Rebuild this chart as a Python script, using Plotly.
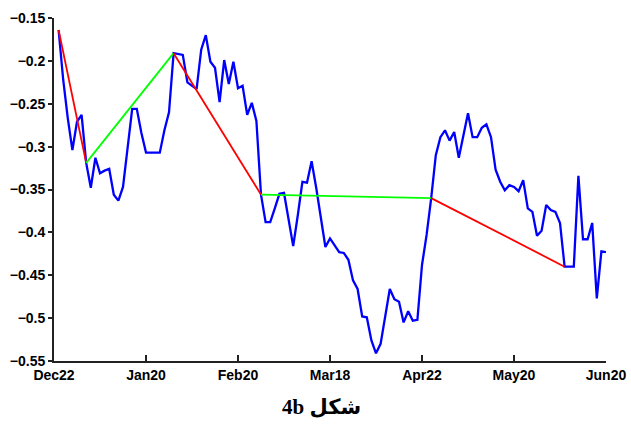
import plotly.graph_objects as go

# Daily series (trading-day index 1..120)
values = [
    -0.164, -0.222, -0.267, -0.304, -0.271, -0.263, -0.319, -0.348, -0.313, -0.331,
    -0.328, -0.326, -0.356, -0.363, -0.347, -0.298, -0.256, -0.256, -0.284, -0.307,
    -0.307, -0.307, -0.307, -0.281, -0.260, -0.191, -0.192, -0.193, -0.225, -0.229,
    -0.233, -0.187, -0.170, -0.201, -0.208, -0.248, -0.199, -0.227, -0.201, -0.232,
    -0.229, -0.263, -0.249, -0.270, -0.356, -0.388, -0.388, -0.372, -0.355, -0.354,
    -0.383, -0.416, -0.380, -0.341, -0.342, -0.317, -0.348, -0.383, -0.417, -0.407,
    -0.415, -0.423, -0.424, -0.432, -0.456, -0.466, -0.498, -0.499, -0.526, -0.541,
    -0.530, -0.499, -0.466, -0.478, -0.481, -0.505, -0.492, -0.503, -0.502, -0.438,
    -0.403, -0.360, -0.310, -0.289, -0.281, -0.293, -0.283, -0.313, -0.289, -0.261,
    -0.289, -0.289, -0.278, -0.274, -0.289, -0.327, -0.341, -0.351, -0.345, -0.347,
    -0.352, -0.339, -0.372, -0.376, -0.404, -0.398, -0.368, -0.374, -0.376, -0.389,
    -0.440, -0.440, -0.440, -0.334, -0.408, -0.408, -0.389, -0.477, -0.422, -0.423,
]
days = list(range(1, len(values) + 1))

# Turning points of the zigzag trend (day numbers) and segment colours
turn_days = [1, 7, 26, 45, 82, 111]
segment_colors = ["#ff0000", "#00ff00", "#ff0000", "#00ff00", "#ff0000"]

# Axis ticks
x_tick_days = [0, 20, 40, 60, 80, 100, 120]
x_tick_labels = ["Dec22", "Jan20", "Feb20", "Mar18", "Apr22", "May20", "Jun20"]
y_tick_vals = [-0.55, -0.5, -0.45, -0.4, -0.35, -0.3, -0.25, -0.2, -0.15]
y_tick_labels = ["\u22120.55", "\u22120.5", "\u22120.45", "\u22120.4", "\u22120.35",
                 "\u22120.3", "\u22120.25", "\u22120.2", "\u22120.15"]

caption = "4b \u0634\u06a9\u0644"

fig = go.Figure()

fig.add_trace(go.Scatter(
    x=days, y=values, mode="lines",
    line=dict(color="#0000ff", width=2.3),
    hoverinfo="skip",
))

turn_vals = [values[d - 1] for d in turn_days]
for i, col in enumerate(segment_colors):
    fig.add_trace(go.Scatter(
        x=[turn_days[i], turn_days[i + 1]],
        y=[turn_vals[i], turn_vals[i + 1]],
        mode="lines",
        line=dict(color=col, width=1.8),
        hoverinfo="skip",
    ))

axis_font = dict(family="Liberation Sans", size=14, color="#000000", weight="bold")

fig.update_layout(
    width=631, height=424,
    margin=dict(l=54, r=25.3, t=18, b=63),
    paper_bgcolor="white", plot_bgcolor="white",
    showlegend=False,
    xaxis=dict(
        range=[0, 120],
        tickvals=x_tick_days, ticktext=x_tick_labels,
        ticks="inside", ticklen=6, tickwidth=1.5, tickcolor="#222222",
        showline=True, linecolor="#222222", linewidth=1.8,
        showgrid=False, zeroline=False, automargin=False,
        tickfont=axis_font,
    ),
    yaxis=dict(
        range=[-0.55, -0.15],
        tickvals=y_tick_vals, ticktext=y_tick_labels,
        ticks="outside", ticklen=4, tickwidth=1.5, tickcolor="#222222",
        showline=True, linecolor="#222222", linewidth=1.8,
        showgrid=False, zeroline=False, automargin=False,
        tickfont=axis_font,
    ),
    annotations=[dict(
        text=caption, xref="paper", yref="paper",
        x=0.484, y=-0.134, xanchor="center", yanchor="middle",
        showarrow=False,
        font=dict(family="Liberation Serif, DejaVu Sans, serif", size=21,
                  color="#000000", weight="bold"),
    )],
)

fig.write_html("out.html")
